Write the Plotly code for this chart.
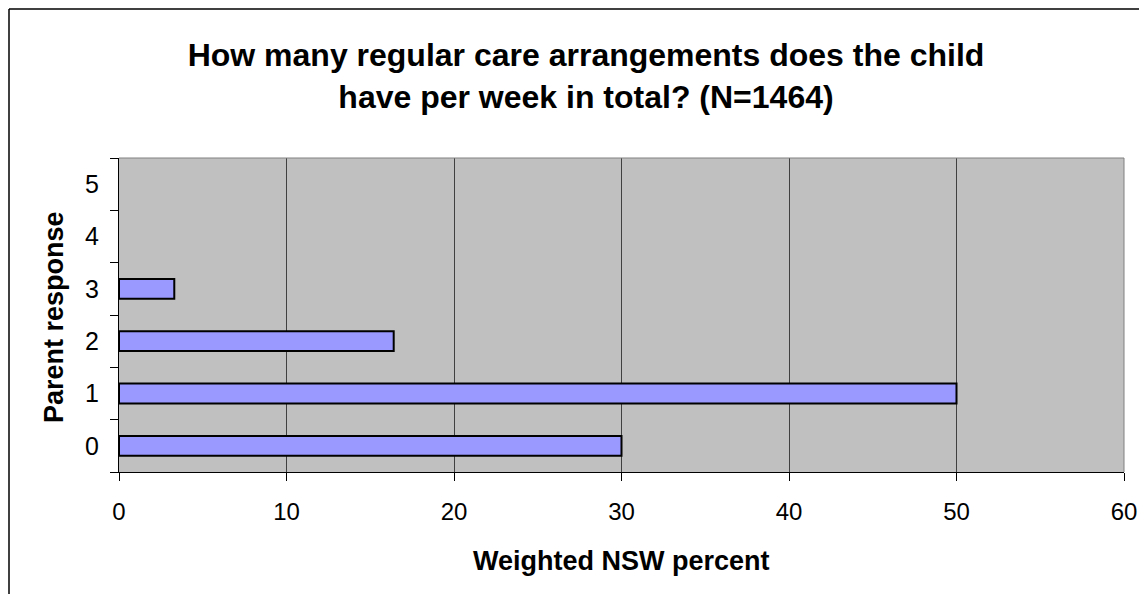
import plotly.graph_objects as go

# Chart data
responses = ["0", "1", "2", "3", "4", "5"]
percents = [30.0, 50.0, 16.4, 3.3, None, None]
x_ticks = [0, 10, 20, 30, 40, 50, 60]

# page body has an 8px margin, so figure coords = screen coords - 8
W, H = 1131, 586
L, R, T, B = 111, 15, 150, 122
pw, ph = W - L - R, H - T - B


def px_x(p):
    return (p - L) / pw


def px_y(p):
    return (H - B - p) / ph


fig = go.Figure()
fig.add_trace(
    go.Bar(
        x=percents,
        y=responses,
        orientation="h",
        width=0.38,
        marker={"color": "#9999FF", "line": {"color": "black", "width": 2}},
        showlegend=False,
    )
)

fig.update_layout(
    width=W,
    height=H,
    margin={"l": L, "r": R, "t": T, "b": B, "pad": 0},
    paper_bgcolor="white",
    plot_bgcolor="#C0C0C0",
    font={"family": "Liberation Sans, Arial, sans-serif", "color": "black"},
    title={
        "text": "<b>How many regular care arrangements does the child<br>have per week in total? (N=1464)</b>",
        "font": {"size": 32},
        "x": 578 / W,
        "xanchor": "center",
        "xref": "container",
        "y": 1 - 58 / H,
        "yanchor": "middle",
        "yref": "container",
    },
)

fig.update_xaxes(
    range=[0, 60],
    tickvals=x_ticks,
    automargin=False,
    showgrid=True,
    gridcolor="#404040",
    gridwidth=1,
    showline=True,
    linecolor="black",
    linewidth=1,
    ticks="outside",
    ticklen=8,
    tickcolor="black",
    tickfont={"size": 24},
    ticklabelstandoff=10,
    zeroline=False,
    fixedrange=True,
)
fig.update_yaxes(
    type="category",
    categoryorder="array",
    categoryarray=responses,
    range=[-0.5, 5.5],
    automargin=False,
    tickson="boundaries",
    showgrid=False,
    showline=True,
    linecolor="black",
    linewidth=1,
    ticks="outside",
    ticklen=8,
    tickcolor="black",
    tickfont={"size": 25},
    ticklabelstandoff=14,
    fixedrange=True,
)

# plot area top/right border
fig.add_shape(type="line", xref="paper", yref="paper", x0=0, x1=1, y0=1, y1=1,
              line={"color": "#808080", "width": 1})
fig.add_shape(type="line", xref="paper", yref="paper", x0=1, x1=1, y0=0, y1=1,
              line={"color": "#808080", "width": 1})

# outer chart frame (left and top edges visible)
fig.add_shape(type="line", xref="paper", yref="paper",
              x0=px_x(1), x1=px_x(1), y0=px_y(1), y1=px_y(H + 5),
              line={"color": "black", "width": 1.5})
fig.add_shape(type="line", xref="paper", yref="paper",
              x0=px_x(1), x1=px_x(W + 5), y0=px_y(1), y1=px_y(1),
              line={"color": "black", "width": 1.5})

# axis titles
fig.add_annotation(text="<b>Weighted NSW percent</b>", xref="paper", yref="paper",
                   x=px_x(613), y=px_y(553), showarrow=False,
                   xanchor="center", yanchor="middle", font={"size": 27})
fig.add_annotation(text="<b>Parent response</b>", xref="paper", yref="paper",
                   x=px_x(46), y=px_y(309), showarrow=False, textangle=-90,
                   xanchor="center", yanchor="middle", font={"size": 27})

fig.write_html("out.html")
